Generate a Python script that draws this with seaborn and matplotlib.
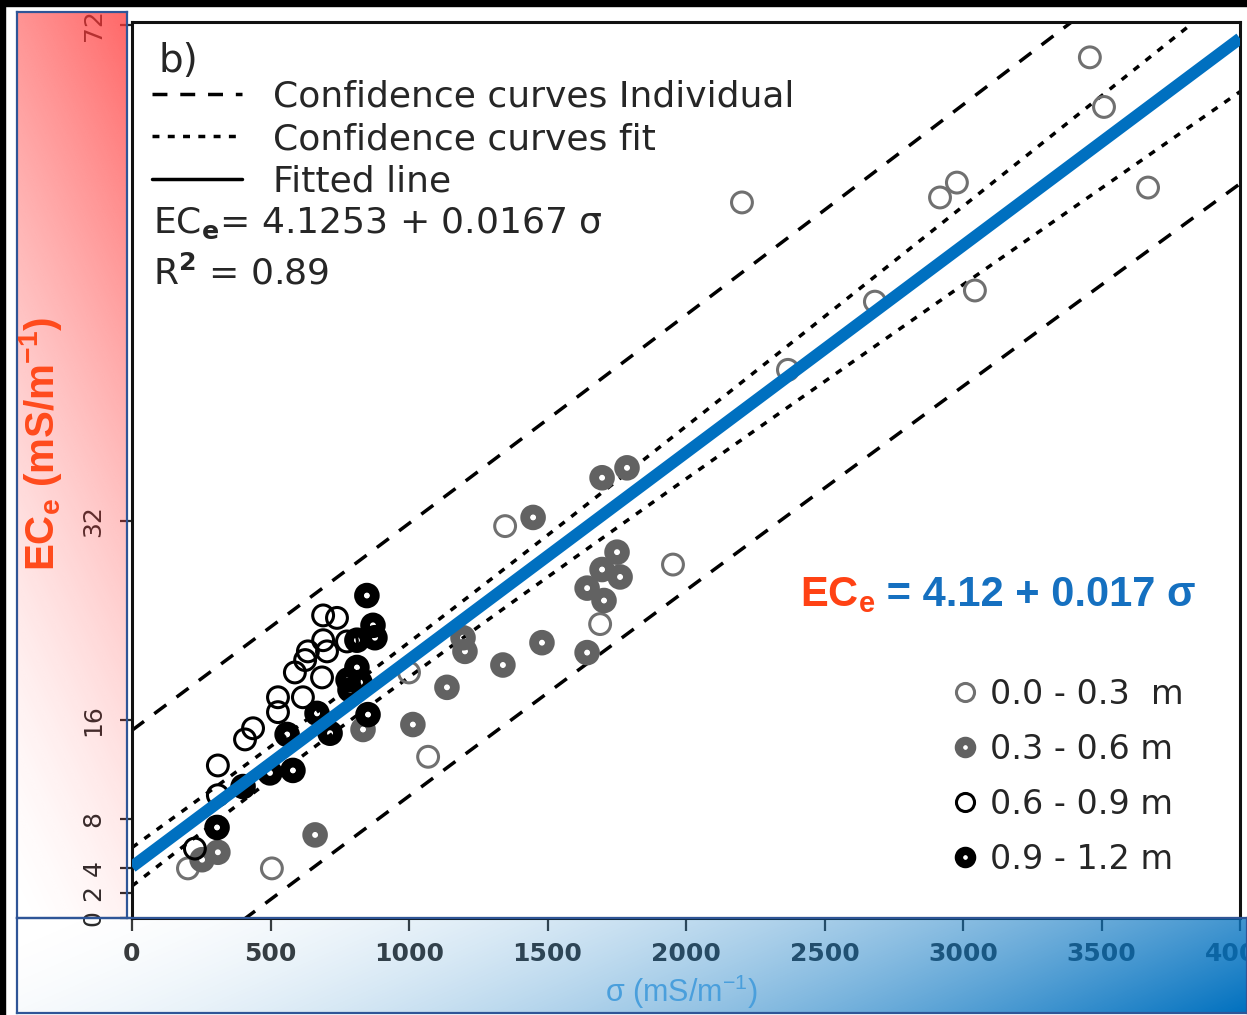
import numpy as np
import matplotlib
matplotlib.use('Agg')
import matplotlib.pyplot as plt
import pandas as pd
import seaborn as sns
from matplotlib.lines import Line2D
from matplotlib.patches import Rectangle

# sigma (mS/m) and ECe (mS/m), one pair of lists per depth
sig_a = [3458, 3509, 3668, 2202, 2917, 2978, 2682, 3043, 2368, 1347, 1953, 1690, 1000, 1069, 505, 202]
ec_a = [69.4, 65.4, 58.9, 57.7, 58.1, 59.3, 49.7, 50.6, 44.2, 31.6, 28.5, 23.7, 19.8, 13.0, 4.0, 4.0]

sig_b = [1697, 1787, 1448, 1751, 1697, 1762, 1643, 1704, 1195, 1202, 1480, 1339, 1643, 1137, 1014, 834, 661, 310, 253]
ec_b = [35.5, 36.3, 32.3, 29.5, 28.1, 27.5, 26.6, 25.6, 22.6, 21.5, 22.2, 20.4, 21.4, 18.6, 15.6, 15.2, 6.7, 5.3, 4.7]

sig_c = [690, 740, 690, 704, 635, 625, 588, 686, 527, 617, 527, 437, 408, 310, 310, 227, 776]
ec_c = [24.4, 24.2, 22.4, 21.5, 21.5, 20.8, 19.8, 19.4, 17.8, 17.8, 16.6, 15.3, 14.4, 12.3, 9.9, 5.6, 22.3]

sig_d = [848, 870, 877, 812, 812, 780, 823, 787, 852, 668, 560, 715, 581, 498, 401, 307]
ec_d = [26.0, 23.6, 22.6, 22.4, 20.2, 19.2, 19.0, 18.4, 16.4, 16.5, 14.8, 14.9, 11.9, 11.7, 10.6, 7.3]

depth_labels = ['0.0 - 0.3  m', '0.3 - 0.6 m', '0.6 - 0.9 m', '0.9 - 1.2 m']
line_labels = ['Confidence curves Individual', 'Confidence curves fit', 'Fitted line']

# regression shown on the chart, plus the band parameters
fit_a = 4.1253
fit_b = 0.0167
ts = 10.9        # t * residual sd
n_pts = 67
sig_mean = 650
sxx = 8.0e7

x_ticks = [0, 500, 1000, 1500, 2000, 2500, 3000, 3500, 4000]
y_ticks = [0, 2, 4, 8, 16, 32, 72]

sns.set_style('white')
plt.rcParams['font.family'] = ['DejaVu Sans']
plt.rcParams['mathtext.fontset'] = 'custom'
plt.rcParams['mathtext.rm'] = 'Liberation Sans'
plt.rcParams['mathtext.it'] = 'Liberation Sans:italic'
plt.rcParams['mathtext.bf'] = 'Liberation Sans:bold'

W, H = 1247, 1015
fig = plt.figure(figsize=(W / 100, H / 100), dpi=100)
fig.patch.set_facecolor('white')


def fbox(x0, y0, x1, y1):
    # pixel box (origin top-left) -> figure fraction
    return [x0 / W, 1 - y1 / H, (x1 - x0) / W, (y1 - y0) / H]


ax = fig.add_axes(fbox(132, 22, 1240, 918))
ax.set_facecolor('white')

df = pd.concat([
    pd.DataFrame({'sigma': sig_a, 'ece': ec_a, 'depth': depth_labels[0]}),
    pd.DataFrame({'sigma': sig_b, 'ece': ec_b, 'depth': depth_labels[1]}),
    pd.DataFrame({'sigma': sig_c, 'ece': ec_c, 'depth': depth_labels[2]}),
    pd.DataFrame({'sigma': sig_d, 'ece': ec_d, 'depth': depth_labels[3]}),
])

# colour, size, edge width per depth
styles = {
    depth_labels[0]: ('#707070', 225, 2.2),
    depth_labels[1]: ('#626262', 130, 7.0),
    depth_labels[2]: ('#000000', 225, 2.2),
    depth_labels[3]: ('#000000', 130, 7.0),
}

# confidence curves
sig_grid = np.linspace(0, 4000, 300)
fit = fit_a + fit_b * sig_grid
hw_fit = ts * np.sqrt(1 / n_pts + (sig_grid - sig_mean) ** 2 / sxx)
hw_ind = ts * np.sqrt(1 + 1 / n_pts + (sig_grid - sig_mean) ** 2 / sxx)
dash_ls = (0, (4.3, 3.7))
dot_ls = (0, (2.0, 2.4))
for sgn in (1, -1):
    ax.plot(sig_grid, fit + sgn * hw_ind, color='k', lw=2.5, linestyle=dash_ls, zorder=2)
    ax.plot(sig_grid, fit + sgn * hw_fit, color='k', lw=2.5, linestyle=dot_ls, zorder=2)

for lab, (col, s, lw) in styles.items():
    sub = df[df['depth'] == lab]
    sns.scatterplot(data=sub, x='sigma', y='ece', ax=ax, s=s, color=col,
                    facecolor='none', edgecolor=col, linewidth=lw, zorder=3, legend=False)

ax.plot(sig_grid, fit, color='#0070c0', lw=8.6, solid_capstyle='butt', zorder=4)

ax.set_xlim(0, 4000)
ax.set_ylim(0, 72.25)
ax.set_xlabel('')
ax.set_ylabel('')
ax.set_xticks(x_ticks)
ax.set_yticks(y_ticks)
ax.tick_params(axis='x', bottom=True, direction='out', length=9, width=1.6, pad=8,
               labelsize=18, colors='#3a3a3a')
ax.tick_params(axis='y', left=True, direction='out', length=9, width=1.6, pad=10,
               labelsize=18, colors='#2a2a2a', labelrotation=90)
for t in ax.get_xticklabels():
    t.set_fontweight('bold')
for t in ax.get_yticklabels():
    t.set_va('center')
for sp in ax.spines.values():
    sp.set_color('#111111')
    sp.set_linewidth(2.2)

# legend of line styles, top left
h_lines = [Line2D([], [], color='k', lw=2.5, linestyle=dash_ls),
           Line2D([], [], color='k', lw=2.5, linestyle=dot_ls),
           Line2D([], [], color='k', lw=2.5)]
leg1 = ax.legend(h_lines, line_labels, loc='upper left', bbox_to_anchor=(0.018, 0.936),
                 frameon=False, fontsize=26, handlelength=2.5, handletextpad=0.85,
                 labelspacing=0.24, borderpad=0, borderaxespad=0)
ax.add_artist(leg1)

# legend of depths, bottom right
h_depth = []
for lab in depth_labels:
    col, s, lw = styles[lab]
    thick = lw > 4
    h_depth.append(Line2D([], [], marker='o', linestyle='none', markerfacecolor='none',
                          markeredgecolor=col, markersize=9.5 if thick else 13,
                          markeredgewidth=6.0 if thick else 2.2))
ax.legend(h_depth, depth_labels, loc='upper left', bbox_to_anchor=(0.740, 0.268),
          frameon=False, fontsize=24, handlelength=0.8, handletextpad=0.35,
          labelspacing=0.66, borderpad=0, borderaxespad=0)

ax.text(0.0235, 0.944, 'b)', transform=ax.transAxes, fontsize=28, va='baseline')
ax.text(0.019, 0.765, r'EC$_\mathbf{e}$= 4.1253 + 0.0167 σ', transform=ax.transAxes,
        fontsize=26, va='baseline', math_fontfamily='dejavusans')
ax.text(0.019, 0.707, r'R$^\mathbf{2}$ = 0.89', transform=ax.transAxes,
        fontsize=26, va='baseline', math_fontfamily='dejavusans')

# coloured equation on the right
t1 = ax.text(0.603, 0.348, r'EC$_\mathbf{e}$', transform=ax.transAxes, fontsize=30,
             fontweight='bold', family='Liberation Sans', color='#ff4214', va='baseline', zorder=6)
ax.annotate(' = 4.12 + 0.017 σ', xy=(1, 0), xycoords=t1, va='bottom', ha='left',
            fontsize=30, fontweight='bold', family='Liberation Sans', color='#1570c0', zorder=6)

# red gradient panel over the y axis
ax_r = fig.add_axes(fbox(17, 12, 127, 918), zorder=5)
yy, xx = np.mgrid[0:1:300j, 0:1:60j]
tr = 0.8 * yy + 0.2 * xx
img_r = np.zeros((300, 60, 4))
img_r[..., 0] = 1.0
img_r[..., 1] = 0.2
img_r[..., 2] = 0.2
img_r[..., 3] = 0.74 * tr ** 1.5
ax_r.imshow(img_r, extent=(0, 1, 0, 1), origin='lower', aspect='auto', interpolation='bilinear')
ax_r.text(0.21, 0.523, r'EC$_\mathbf{e}$ (mS/m$^\mathbf{-1}$)', rotation=90, ha='center', va='center',
          fontsize=29, fontweight='bold', family='Liberation Sans', color='#ff4a1c',
          transform=ax_r.transAxes)

# blue gradient panel over the x axis
ax_b = fig.add_axes(fbox(17, 918, 1247, 1013), zorder=5)
yb, xb = np.mgrid[0:1:60j, 0:1:400j]
tb = 0.85 * xb + 0.15 * (1 - yb)
img_b = np.zeros((60, 400, 4))
img_b[..., 0] = 0.0
img_b[..., 1] = 0.44
img_b[..., 2] = 0.75
img_b[..., 3] = np.clip(tb, 0, 1) ** 1.8
ax_b.imshow(img_b, extent=(0, 1, 0, 1), origin='lower', aspect='auto', interpolation='bilinear')
ax_b.text(0.54, 0.22, r'σ (mS/m$^{\mathrm{-1}}$)', ha='center', va='center', fontsize=22,
          family='Liberation Sans', color='#4a9fdc', transform=ax_b.transAxes)

for a in (ax_r, ax_b):
    a.set_xlim(0, 1)
    a.set_ylim(0, 1)
    a.set_xticks([])
    a.set_yticks([])
    a.patch.set_alpha(0)
    for sp in a.spines.values():
        sp.set_visible(True)
        sp.set_color('#2f5597')
        sp.set_linewidth(1.6)

# black edges of the screenshot
fig.add_artist(Rectangle((0, 1 - 6 / H), 1, 6 / H, transform=fig.transFigure,
                         color='black', zorder=10))
fig.add_artist(Rectangle((0, 0), 5 / W, 1, transform=fig.transFigure,
                         color='black', zorder=10))

fig.savefig('out.png', dpi=100, facecolor=fig.get_facecolor())
